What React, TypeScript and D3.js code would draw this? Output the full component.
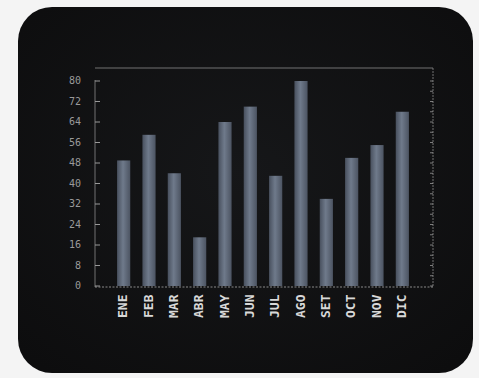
import React from "react";
import * as d3 from "d3";

const months = ["ENE", "FEB", "MAR", "ABR", "MAY", "JUN", "JUL", "AGO", "SET", "OCT", "NOV", "DIC"];
const values = [49, 59, 44, 19, 64, 70, 43, 80, 34, 50, 55, 68];
const yTicks = [0, 8, 16, 24, 32, 40, 48, 56, 64, 72, 80];
const minorTicks = d3.range(0, 84, 4);

const W = 479;
const H = 378;

export default function App() {
  const y = d3.scaleLinear().domain([0, 80]).range([286, 81]);
  const x = d3.scaleBand<string>().domain(months).range([111, 415]).paddingInner(0.48).paddingOuter(0.24);
  const frameL = 95, frameR = 433, frameT = 68, frameB = 287;

  return (
    <svg width={W} height={H} style={{ position: "absolute", left: 0, top: 0, display: "block" }}>
      <defs>
        <linearGradient id="barg" x1="0" x2="1" y1="0" y2="0">
          <stop offset="0" stopColor="#48505e" />
          <stop offset="0.45" stopColor="#6f7a8b" />
          <stop offset="1" stopColor="#4c5462" />
        </linearGradient>
        <radialGradient id="scr" cx="0.5" cy="0.45" r="0.7">
          <stop offset="0" stopColor="#161719" />
          <stop offset="1" stopColor="#0d0d0e" />
        </radialGradient>
      </defs>
      <rect x={0} y={0} width={W} height={H} fill="#f4f4f4" />
      <rect x={18} y={7} width={455} height={366} rx={34} ry={34} fill="url(#scr)" />

      {/* frame */}
      <line x1={frameL} x2={frameR} y1={frameT} y2={frameT} stroke="#8a8a8a" strokeWidth={0.8} />
      <line x1={frameR} x2={frameR} y1={frameT} y2={frameB} stroke="#8a8a8a" strokeWidth={0.8} strokeDasharray="2,1" />
      <line x1={frameL} x2={frameR} y1={frameB} y2={frameB} stroke="#8a8a8a" strokeWidth={1} strokeDasharray="2,1.5" />
      <line x1={frameL} x2={frameL} y1={frameT + 12} y2={frameB} stroke="#8a8a8a" strokeWidth={0.8} />

      {/* left ticks & labels */}
      {yTicks.map((t) => (
        <g key={t}>
          <line x1={frameL} x2={frameL + 5} y1={y(t)} y2={y(t)} stroke="#999" strokeWidth={1} />
          <text x={81} y={y(t)} textAnchor="end" dominantBaseline="middle" fontFamily="'DejaVu Sans Mono', monospace" fontSize={10} fill="#9a9a9a">
            {t}
          </text>
        </g>
      ))}
      {/* right minor ticks */}
      {minorTicks.map((t) => (
        <line key={t} x1={frameR - 3} x2={frameR} y1={y(t)} y2={y(t)} stroke="#999" strokeWidth={0.8} />
      ))}

      {/* bars */}
      {months.map((m, i) => (
        <rect key={m} x={x(m)} y={y(values[i])} width={x.bandwidth()} height={y(0) - y(values[i])} fill="url(#barg)" />
      ))}

      {/* x labels */}
      {months.map((m) => {
        const cx = (x(m) as number) + x.bandwidth() / 2;
        return (
          <text key={m} transform={`translate(${cx},318) rotate(-90)`} textAnchor="start" dominantBaseline="middle"
            fontFamily="'DejaVu Sans Mono', monospace" fontSize={13} fontWeight="bold" fill="#d8d8d8">
            {m}
          </text>
        );
      })}
    </svg>
  );
}
